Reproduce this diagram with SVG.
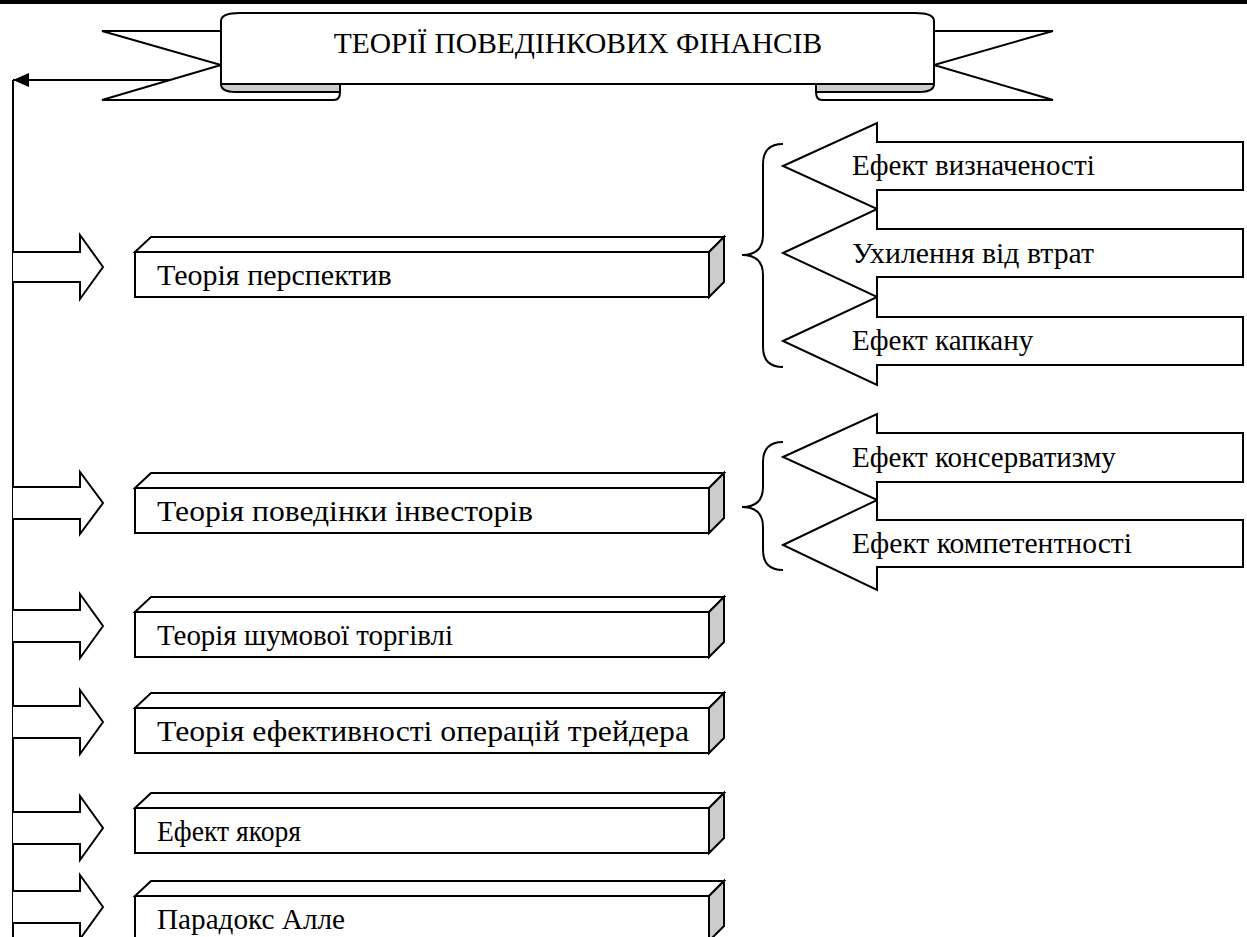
<svg xmlns="http://www.w3.org/2000/svg" width="1247" height="937" viewBox="0 0 1247 937">
<defs>
<style>
.ln{fill:none;stroke:#000;stroke-width:2}
.sh{fill:#fff;stroke:#000;stroke-width:2;stroke-linejoin:miter}
.gr{fill:#cccccc;stroke:#000;stroke-width:2;stroke-linejoin:miter}
text{font-family:"Liberation Serif","Times New Roman",Tinos,"Noto Serif","DejaVu Serif",serif;fill:#000}
.t{font-size:30px}
.tr{font-size:29px}
.tt{font-size:29.5px}
</style>
<marker id="ah" viewBox="0 0 16 14" refX="16" refY="7" markerWidth="16" markerHeight="14" markerUnits="userSpaceOnUse" orient="auto">
<path d="M0,0 L16,7 L0,14 Z" fill="#000"/>
</marker>
</defs>
<rect x="0" y="0" width="1247" height="4" fill="#000"/>

<g id="banner">
<path class="sh" d="M221,31 H102 L221,65 L102,100 H334 Q340,100 340,92 V84 H221 Z"/>
<path class="sh" d="M934,31 H1053 L934,65 L1053,100 H822 Q816,100 816,92 V84 H934 Z"/>
<path class="gr" d="M221,84 H340 V92 H236 Q221,92 221,84 Z"/>
<path class="gr" d="M934,84 H816 V92 H919 Q934,92 934,84 Z"/>
<path class="sh" d="M221,84 V21 Q221,13 240,13 H915 Q934,13 934,21 V84 Z"/>
<text class="tt" x="578" y="53" text-anchor="middle">ТЕОРІЇ ПОВЕДІНКОВИХ ФІНАНСІВ</text>
</g>

<g id="connectors">
<path class="ln" d="M13,937 V80"/>
<path class="ln" d="M170,80 H13" marker-end="url(#ah)"/>
<path class="sh" d="M13,252 H80 V235 L103,267 L80,299 V282 H13"/>
<path class="sh" d="M13,487 H80 V472 L103,503 L80,534 V519 H13"/>
<path class="sh" d="M13,610 H80 V594 L103,626 L80,658 V642 H13"/>
<path class="sh" d="M13,706 H80 V690 L103,722 L80,754 V738 H13"/>
<path class="sh" d="M13,812 H80 V796 L103,828 L80,860 V844 H13"/>
<path class="sh" d="M13,891 H80 V875 L103,907 L80,939 V923 H13"/>
<path class="ln" d="M783,144 Q763,144 763,164 V235 Q763,255 742,255 Q763,255 763,275 V347 Q763,367 783,367"/>
<path class="ln" d="M783,442 Q763,442 763,462 V487 Q763,507 742,507 Q763,507 763,527 V550 Q763,570 783,570"/>
</g>

<g id="box1">
<path class="sh" d="M135,252 L151,237 H724 L709,252 Z"/>
<path class="gr" d="M709,252 L724,237 V282 L709,297 Z"/>
<rect class="sh" x="135" y="252" width="574" height="45"/>
<text class="t" x="157" y="285">Теорія перспектив</text>
</g>
<g id="box2">
<path class="sh" d="M135,488 L151,473 H724 L709,488 Z"/>
<path class="gr" d="M709,488 L724,473 V518 L709,533 Z"/>
<rect class="sh" x="135" y="488" width="574" height="45"/>
<text class="t" x="157" y="521" textLength="376" lengthAdjust="spacingAndGlyphs">Теорія поведінки інвесторів</text>
</g>
<g id="box3">
<path class="sh" d="M135,612 L151,597 H724 L709,612 Z"/>
<path class="gr" d="M709,612 L724,597 V642 L709,657 Z"/>
<rect class="sh" x="135" y="612" width="574" height="45"/>
<text class="t" x="157" y="645" textLength="296" lengthAdjust="spacingAndGlyphs">Теорія шумової торгівлі</text>
</g>
<g id="box4">
<path class="sh" d="M135,708 L151,693 H724 L709,708 Z"/>
<path class="gr" d="M709,708 L724,693 V738 L709,753 Z"/>
<rect class="sh" x="135" y="708" width="574" height="45"/>
<text class="t" x="157" y="741" textLength="532" lengthAdjust="spacingAndGlyphs">Теорія ефективності операцій трейдера</text>
</g>
<g id="box5">
<path class="sh" d="M135,808 L151,793 H724 L709,808 Z"/>
<path class="gr" d="M709,808 L724,793 V838 L709,853 Z"/>
<rect class="sh" x="135" y="808" width="574" height="45"/>
<text class="t" x="157" y="841" textLength="144" lengthAdjust="spacingAndGlyphs">Ефект якоря</text>
</g>
<g id="box6">
<path class="sh" d="M135,896 L151,881 H724 L709,896 Z"/>
<path class="gr" d="M709,896 L724,881 V926 L709,941 Z"/>
<rect class="sh" x="135" y="896" width="574" height="45"/>
<text class="t" x="157" y="929" textLength="188" lengthAdjust="spacingAndGlyphs">Парадокс Алле</text>
</g>

<g id="effect1">
<path class="sh" d="M783,166 L877,123 V142 H1243 V190 H877 V209 Z"/>
<text class="tr" x="852" y="175">Ефект визначеності</text>
</g>
<g id="effect2">
<path class="sh" d="M783,253 L877,209 V229 H1243 V277 H877 V297 Z"/>
<text class="tr" x="852" y="263" textLength="242" lengthAdjust="spacingAndGlyphs">Ухилення від втрат</text>
</g>
<g id="effect3">
<path class="sh" d="M783,341 L877,297 V317 H1243 V365 H877 V385 Z"/>
<text class="tr" x="852" y="350">Ефект капкану</text>
</g>
<g id="effect4">
<path class="sh" d="M783,457 L877,414 V433 H1243 V482 H877 V500 Z"/>
<text class="tr" x="852" y="467">Ефект консерватизму</text>
</g>
<g id="effect5">
<path class="sh" d="M783,545 L877,500 V520 H1243 V567 H877 V590 Z"/>
<text class="tr" x="852" y="553" textLength="280" lengthAdjust="spacingAndGlyphs">Ефект компетентності</text>
</g>
</svg>
